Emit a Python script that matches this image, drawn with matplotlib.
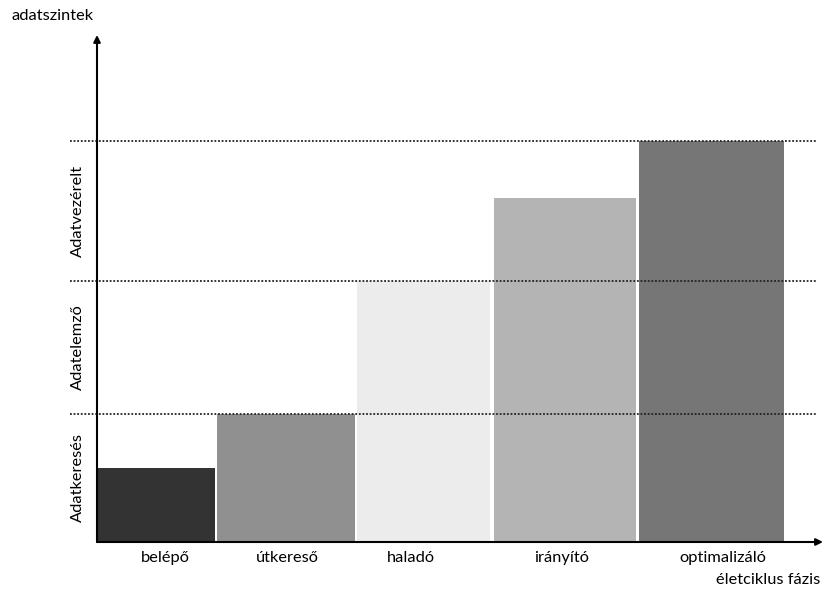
import matplotlib.pyplot as plt

plt.rcParams['font.family'] = ['Lato', 'DejaVu Sans']

# fázisok és szintek
phases = ['belépő', 'útkereső', 'haladó', 'irányító', 'optimalizáló']
bar_left = [0, 120, 260, 397, 542]
bar_width = [118, 138, 133, 142, 145]
heights = [0.55, 0.96, 1.95, 2.57, 3.0]
colors = ['#333333', '#909090', '#ececec', '#b4b4b4', '#767676']
label_x = [68, 190, 314, 465, 626]

levels = ['Adatkeresés', 'Adatelemző', 'Adatvezérelt']
level_bounds = [0.96, 1.95, 3.0]

W, H = 837, 592
fs = 11.8
fig = plt.figure(figsize=(W / 100, H / 100), dpi=100)
ax = fig.add_axes([97 / W, 50 / H, 726 / W, 507 / H])
ax.set_xlim(0, 726)
ax.set_ylim(0, 507 / 133.67)

ax.bar(bar_left, heights, width=bar_width, align='edge', color=colors,
       edgecolor='none', zorder=2)

# pontozott szintvonalak
for b in level_bounds:
    ax.plot([-27, 719], [b, b], ls=(0, (1, 1)), color='#222222', lw=1.3,
            zorder=3, clip_on=False)

# szint feliratok
lower = 0
for name, b in zip(levels, level_bounds):
    ax.text(-19, (lower + b) / 2, name, rotation=90, ha='center', va='center',
            fontsize=fs)
    lower = b

for name, x in zip(phases, label_x):
    ax.text(x, -0.07, name, ha='center', va='top', fontsize=fs)

# tengelyek nyíllal
ax.annotate('', xy=(0, 507 / 133.67), xytext=(0, 0),
            arrowprops=dict(arrowstyle='-|>', color='black', lw=1.5,
                            mutation_scale=10, shrinkA=0, shrinkB=0))
ax.annotate('', xy=(726, 0), xytext=(0, 0),
            arrowprops=dict(arrowstyle='-|>', color='black', lw=1.5,
                            mutation_scale=10, shrinkA=0, shrinkB=0))
ax.axis('off')

fig.text(12 / W, 1 - 16 / H, 'adatszintek', ha='left', va='center', fontsize=fs)
fig.text(820 / W, 1 - 580 / H, 'életciklus fázis', ha='right', va='center',
         fontsize=fs)

fig.savefig('out.png', dpi=100)
